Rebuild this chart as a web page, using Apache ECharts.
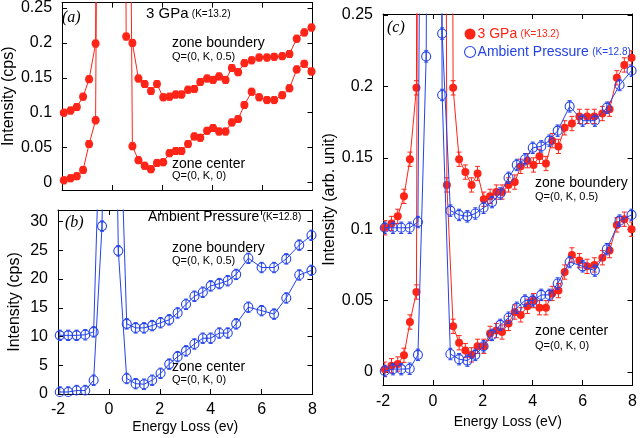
<!DOCTYPE html>
<html><head><meta charset="utf-8">
<script src="https://cdn.jsdelivr.net/npm/echarts@6/dist/echarts.min.js"></script>
<style>html,body{margin:0;padding:0;background:#fff}#chart{width:640px;height:438px}</style>
</head><body><div id="chart"></div>
<script>
// ---------------- data ----------------
const xTicks = [-2, 0, 2, 4, 6, 8];
// 3 GPa energy points (eV)
const redX = [-1.93, -1.66, -1.41, -1.16, -0.92, -0.66, -0.41, -0.16, 0.08, 0.32,
  0.56, 0.81, 1.05, 1.3, 1.55, 1.79, 2.04, 2.29, 2.54, 2.77, 3.03, 3.28, 3.52, 3.79,
  4.03, 4.27, 4.53, 4.78, 5.03, 5.28, 5.57, 5.87, 6.18, 6.47, 6.79, 7.08, 7.37, 7.67, 7.96];
// panel (a) 3 GPa, cps
const aRedBoundary = [0.100, 0.103, 0.108, 0.123, 0.148, 0.199, 2.2, 2.6, 2.6, 2.2,
  0.209, 0.200, 0.149, 0.141, 0.131, 0.141, 0.122, 0.123, 0.126, 0.126,
  0.133, 0.134, 0.144, 0.149, 0.147, 0.152, 0.147, 0.164, 0.158, 0.171,
  0.175, 0.179, 0.179, 0.180, 0.181, 0.184, 0.206, 0.215, 0.222];
const aRedCenter = [0.003, 0.006, 0.009, 0.018, 0.055, 0.089, 1.6, 2.0, 2.0, 1.6,
  1.2, 0.052, 0.032, 0.024, 0.019, 0.028, 0.029, 0.042, 0.045, 0.045,
  0.055, 0.066, 0.064, 0.074, 0.078, 0.073, 0.073, 0.086, 0.091, 0.111,
  0.130, 0.122, 0.118, 0.118, 0.125, 0.135, 0.162, 0.170, 0.159];
const aRedErr = 0.005;
// Ambient pressure energy points (eV)
const blueX = [-1.93, -1.6, -1.27, -0.93, -0.6, -0.27, 0.05, 0.37, 0.7, 1.05, 1.38, 1.7,
  2.03, 2.37, 2.7, 3.03, 3.36, 3.69, 4.0, 4.34, 4.67, 5.0, 5.48, 6.0, 6.49, 6.97, 7.48, 7.96];
// panel (b) ambient, cps
const bBlueBoundary = [10.2, 10.2, 10.2, 10.3, 10.8, 60, 120, 60,
  12.2, 11.5, 11.5, 11.9, 12.4, 12.9, 14.1, 15.6, 17.0, 17.7,
  18.8, 19.2, 19.7, 20.8, 23.6, 22.0, 22.0, 23.5, 25.9, 27.6];
const bBlueCenter = [0.35, 0.35, 0.6, 0.6, 2.4, 29.2, 120, 24.9,
  2.7, 1.8, 1.7, 2.4, 3.6, 5.2, 6.5, 7.5, 8.7, 9.7,
  9.7, 10.6, 10.6, 12.2, 15.1, 14.5, 13.9, 16.7, 20.7, 21.5];
const bBlueErr = 0.9;
// panel (c) arb. unit
const cRedBoundary = [0.101, 0.104, 0.109, 0.123, 0.149, 0.199, 2.2, 2.6, 2.6, 2.2,
  1.5, 0.199, 0.149, 0.140, 0.131, 0.139, 0.121, 0.123, 0.126, 0.126,
  0.131, 0.133, 0.144, 0.148, 0.145, 0.151, 0.146, 0.162, 0.158, 0.171,
  0.174, 0.179, 0.179, 0.179, 0.181, 0.184, 0.206, 0.215, 0.220];
const cRedCenter = [0.002, 0.0044, 0.0056, 0.0117, 0.035, 0.056, 1.6, 2.0, 2.0, 1.6,
  0.131, 0.032, 0.0205, 0.015, 0.012, 0.018, 0.018, 0.027, 0.029, 0.028,
  0.034, 0.042, 0.040, 0.046, 0.050, 0.045, 0.045, 0.055, 0.057, 0.070,
  0.082, 0.078, 0.074, 0.075, 0.080, 0.085, 0.103, 0.107, 0.100];
const cRedErr = 0.005;
const cBlueBoundary = [0.101, 0.101, 0.101, 0.101, 0.105, 1.0, 1.5, 0.237,
  0.113, 0.110, 0.109, 0.111, 0.115, 0.119, 0.125, 0.136, 0.145, 0.149,
  0.157, 0.158, 0.162, 0.169, 0.186, 0.176, 0.176, 0.185, 0.201, 0.211];
const cBlueCenter = [0.0007, 0.002, 0.002, 0.0023, 0.012, 0.221, 1.5, 0.194,
  0.0126, 0.009, 0.008, 0.012, 0.018, 0.026, 0.033, 0.038, 0.045, 0.050,
  0.050, 0.054, 0.054, 0.062, 0.077, 0.074, 0.071, 0.086, 0.106, 0.110];
const cBlueErr = 0.004;

// ---------------- styling ----------------
const RED = '#ff2418';
const BLUE = '#2443ea';
const FONT = '"Liberation Sans", Arial, sans-serif';
const ranges = {
  a: {ymin: -0.0108, ymax: 0.2577, step: 0.05},
  b: {ymin: 0, ymax: 32, step: 5},
  c: {ymin: -0.0091, ymax: 0.2507, step: 0.05}
};

const chart = echarts.init(document.getElementById('chart'), null, {renderer: 'canvas'});

function tickFmt(step) {
  return function (v) {
    const k = v / step;
    if (Math.abs(k - Math.round(k)) > 1e-6) return '';
    return String(+v.toFixed(3));
  };
}
const axisLineStyle = {show: true, onZero: false, lineStyle: {color: '#000', width: 1}};
const tickStyle = {show: true, inside: true, length: 5, lineStyle: {color: '#000', width: 1}};

function xAxes(grid, showLabels, name, nameGap, labelMargin) {
  const base = {type: 'value', gridIndex: grid, min: -2, max: 8, interval: 2,
    axisLine: axisLineStyle, axisTick: tickStyle, splitLine: {show: false}};
  return [
    Object.assign({}, base, {position: 'bottom',
      axisLabel: {show: showLabels, color: '#000', fontSize: 16, fontFamily: FONT, margin: labelMargin},
      name: name, nameLocation: 'middle', nameGap: nameGap,
      nameTextStyle: {color: '#000', fontSize: 14, fontFamily: FONT}}),
    Object.assign({}, base, {position: 'top', axisLabel: {show: false}})
  ];
}
function yAxes(grid, r, name, nameGap) {
  const base = {type: 'value', gridIndex: grid, min: r.ymin, max: r.ymax,
    minInterval: r.step, maxInterval: r.step,
    axisLine: axisLineStyle, axisTick: tickStyle, splitLine: {show: false}};
  return [
    Object.assign({}, base, {position: 'left',
      axisLabel: {show: true, color: '#000', fontSize: 16, fontFamily: FONT, margin: 10,
        formatter: tickFmt(r.step), showMinLabel: true, showMaxLabel: true},
      name: name, nameLocation: 'middle', nameGap: nameGap, nameRotate: 90,
      nameTextStyle: {color: '#000', fontSize: 16, fontFamily: FONT}}),
    Object.assign({}, base, {position: 'right', axisLabel: {show: false}})
  ];
}

function zip(xs, ys) { return xs.map((x, i) => [x, ys[i]]); }

function lineSeries(name, axisIdx, xs, ys, color, filled, size, z) {
  return {
    type: 'line', name: name, xAxisIndex: axisIdx, yAxisIndex: axisIdx,
    data: zip(xs, ys), clip: true, z: z, animation: false,
    symbol: 'circle', symbolSize: size, showAllSymbol: true,
    lineStyle: {color: color, width: 1},
    itemStyle: filled ? {color: color} :
      {color: 'rgba(255,255,255,0)', borderColor: color, borderWidth: 1.1},
    emphasis: {disabled: true}
  };
}
function errSeries(axisIdx, xs, ys, err, ymax, color, cap, z) {
  const data = [];
  xs.forEach((x, i) => { if (ys[i] < ymax) data.push([x, ys[i] - err, ys[i] + err]); });
  return {
    type: 'custom', xAxisIndex: axisIdx, yAxisIndex: axisIdx, data: data, clip: true,
    z: z, silent: true, animation: false,
    renderItem: function (params, api) {
      const x = api.value(0);
      const p1 = api.coord([x, api.value(1)]);
      const p2 = api.coord([x, api.value(2)]);
      const st = {stroke: color, lineWidth: 1};
      return {type: 'group', children: [
        {type: 'line', shape: {x1: p1[0], y1: p1[1], x2: p2[0], y2: p2[1]}, style: st},
        {type: 'line', shape: {x1: p1[0] - cap, y1: p1[1], x2: p1[0] + cap, y2: p1[1]}, style: st},
        {type: 'line', shape: {x1: p2[0] - cap, y1: p2[1], x2: p2[0] + cap, y2: p2[1]}, style: st}
      ]};
    }
  };
}

function txt(x, y, text, size, extra) {
  return {type: 'text', x: x, y: y, z: 20,
    style: Object.assign({text: text, fill: '#000', font: size + 'px ' + FONT,
      verticalAlign: 'middle', align: 'left'}, extra || {})};
}
function richTxt(x, y, main, small, color, mainSize) {
  return {type: 'text', x: x, y: y, z: 20,
    style: {text: '{m|' + main + '} {s|' + small + '}', verticalAlign: 'middle', align: 'left',
      fill: color,
      rich: {m: {fontSize: mainSize, fontFamily: FONT, fill: color},
             s: {fontSize: 10, fontFamily: FONT, fill: color}}}};
}

const xAxis = [].concat(
  xAxes(0, false, '', 0, 8),
  xAxes(1, true, 'Energy Loss (ev)', 26, 8),
  xAxes(2, true, 'Energy Loss (eV)', 29, 9)
);
const yAxis = [].concat(
  yAxes(0, ranges.a, 'Intensity (cps)', 35),
  yAxes(1, ranges.b, 'Intensity (cps)', 35),
  yAxes(2, ranges.c, 'Intensity (arb. unit)', 44)
);
// axis index: grid a -> 0 (bottom/left), b -> 2, c -> 4
const series = [
  lineSeries('a boundary', 0, redX, aRedBoundary, RED, true, 8, 3),
  lineSeries('a center', 0, redX, aRedCenter, RED, true, 8, 3),
  errSeries(0, redX, aRedBoundary, aRedErr, ranges.a.ymax, RED, 2.5, 2),
  errSeries(0, redX, aRedCenter, aRedErr, ranges.a.ymax, RED, 2.5, 2),

  lineSeries('b boundary', 2, blueX, bBlueBoundary, BLUE, false, 9, 3),
  lineSeries('b center', 2, blueX, bBlueCenter, BLUE, false, 9, 3),
  errSeries(2, blueX, bBlueBoundary, bBlueErr, ranges.b.ymax, BLUE, 2, 4),
  errSeries(2, blueX, bBlueCenter, bBlueErr, ranges.b.ymax, BLUE, 2, 4),

  lineSeries('3 GPa', 4, redX, cRedBoundary, RED, true, 8, 3),
  lineSeries('3 GPa', 4, redX, cRedCenter, RED, true, 8, 3),
  errSeries(4, redX, cRedBoundary, cRedErr, ranges.c.ymax, RED, 2.5, 2),
  errSeries(4, redX, cRedCenter, cRedErr, ranges.c.ymax, RED, 2.5, 2),
  lineSeries('Ambient Pressure', 4, blueX, cBlueBoundary, BLUE, false, 9, 5),
  lineSeries('Ambient Pressure', 4, blueX, cBlueCenter, BLUE, false, 9, 5),
  errSeries(4, blueX, cBlueBoundary, cBlueErr, ranges.c.ymax, BLUE, 2, 6),
  errSeries(4, blueX, cBlueCenter, cBlueErr, ranges.c.ymax, BLUE, 2, 6)
];

const option = {
  backgroundColor: '#fff',
  animation: false,
  grid: [
    {left: 58, top: 1, width: 254.5, height: 189},
    {left: 58, top: 210, width: 254.5, height: 184},
    {left: 383, top: 14, width: 252, height: 371}
  ],
  xAxis: xAxis,
  yAxis: yAxis,
  legend: {
    left: 459, top: 21, orient: 'vertical', itemWidth: 11, itemHeight: 11, itemGap: 2,
    selectedMode: false,
    data: [
      {name: '3 GPa', icon: 'circle', itemStyle: {color: RED, borderWidth: 0},
       textStyle: {color: RED}},
      {name: 'Ambient Pressure', icon: 'circle',
       itemStyle: {color: '#fff', borderColor: BLUE, borderWidth: 1.1},
       textStyle: {color: BLUE}}
    ],
    formatter: function (name) {
      return name === '3 GPa' ? '{r|3 GPa} {rs|(K=13.2)}' : '{b|Ambient Pressure} {bs|(K=12.8)}';
    },
    textStyle: {padding: [0, 0, 0, -3], lineHeight: 16,
      rich: {
        r: {fontSize: 14, fontFamily: FONT, color: RED},
        rs: {fontSize: 10, fontFamily: FONT, color: RED},
        b: {fontSize: 14, fontFamily: FONT, color: BLUE},
        bs: {fontSize: 10, fontFamily: FONT, color: BLUE}
      }}
  },
  graphic: [
    txt(62, 18, '(a)', 16, {font: 'italic 16px "Liberation Serif", serif'}),
    richTxt(146, 14, '3 GPa', '(K=13.2)', '#000', 15),
    txt(172, 43, 'zone boundery', 14),
    txt(172, 57, 'Q=(0, K, 0.5)', 11),
    txt(172, 164, 'zone center', 14),
    txt(172, 176, 'Q=(0, K, 0)', 11),

    txt(65, 223, '(b)', 16, {font: 'italic 16px "Liberation Serif", serif'}),
    richTxt(148, 217, 'Ambient Pressure', '(K=12.8)', '#000', 14),
    txt(172, 248, 'zone boundery', 14),
    txt(172, 261, 'Q=(0, K, 0.5)', 11),
    txt(172, 367, 'zone center', 14),
    txt(172, 380, 'Q=(0, K, 0)', 11),

    txt(387, 28, '(c)', 16, {font: 'italic 16px "Liberation Serif", serif'}),
    txt(535, 183, 'zone boundery', 14),
    txt(535, 197, 'Q=(0, K, 0.5)', 11),
    txt(535, 331, 'zone center', 14),
    txt(535, 346, 'Q=(0, K, 0)', 11)
  ],
  series: series
};
chart.setOption(option);
</script></body></html>
